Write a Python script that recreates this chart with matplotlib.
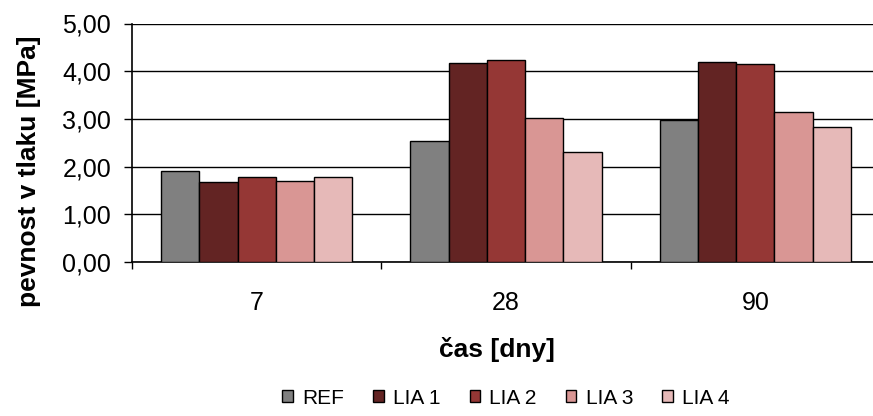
import matplotlib
matplotlib.use("Agg")
import matplotlib.pyplot as plt
from matplotlib.patches import Patch
import numpy as np

plt.rcParams['font.family'] = ['Liberation Sans', 'DejaVu Sans']

categories = ["7", "28", "90"]
series_names = ["REF", "LIA 1", "LIA 2", "LIA 3", "LIA 4"]
ref = [1.91, 2.54, 2.98]
lia1 = [1.67, 4.17, 4.19]
lia2 = [1.78, 4.23, 4.16]
lia3 = [1.70, 3.01, 3.14]
lia4 = [1.78, 2.31, 2.82]
yticks = [0, 1, 2, 3, 4, 5]
ytick_labels = ["0,00", "1,00", "2,00", "3,00", "4,00", "5,00"]

series = [ref, lia1, lia2, lia3, lia4]
colors = ["#808080", "#632423", "#953735", "#D99694", "#E6B9B8"]

fig = plt.figure(figsize=(8.73, 4.16), dpi=100)
ax = fig.add_axes([132 / 873, 1 - 262 / 416, 748 / 873, (262 - 23.5) / 416])

x = np.arange(len(categories))
bw = 0.1535
for i, (vals, c) in enumerate(zip(series, colors)):
    ax.bar(x + (i - 2) * bw, vals, width=bw, color=c, edgecolor="black",
           linewidth=1.0, zorder=3)

ax.set_xlim(-0.5, len(categories) - 0.5)
ax.set_ylim(0, 5)
ax.set_yticks(yticks)
ax.set_yticklabels(ytick_labels, fontsize=18)
ax.yaxis.grid(True, color="black", linewidth=1.0, zorder=0)
ax.set_axisbelow(True)

ax.set_xticks(np.arange(len(categories) + 1) - 0.5)
ax.set_xticklabels([])
ax.set_xticks(x, minor=True)
ax.set_xticklabels(categories, minor=True, fontsize=18)
ax.tick_params(axis="x", which="major", direction="out", length=5, width=1, color="black")
ax.tick_params(axis="x", which="minor", length=0, pad=21)
ax.tick_params(axis="y", direction="out", length=6, width=1, pad=9, color="black")

for s in ["top", "right"]:
    ax.spines[s].set_visible(False)
for s in ["left", "bottom"]:
    ax.spines[s].set_color("black")
    ax.spines[s].set_linewidth(1.2)

fig.text(29 / 873, 1 - 171 / 416, "pevnost v tlaku [MPa]", rotation=90,
         ha="center", va="center", fontsize=19, fontweight="bold")
fig.text(497 / 873, 1 - 350 / 416, "čas [dny]", ha="center", va="center",
         fontsize=19, fontweight="bold")

handles = [Patch(facecolor=c, edgecolor="black", linewidth=1.0) for c in colors]
fig.legend(handles, series_names, loc="center", bbox_to_anchor=(506 / 873, 1 - 398 / 416),
           ncol=5, frameon=False, fontsize=15, handlelength=0.5, handleheight=0.5,
           handletextpad=0.45, columnspacing=1.4, borderaxespad=0)

fig.savefig("out.png", dpi=100)
